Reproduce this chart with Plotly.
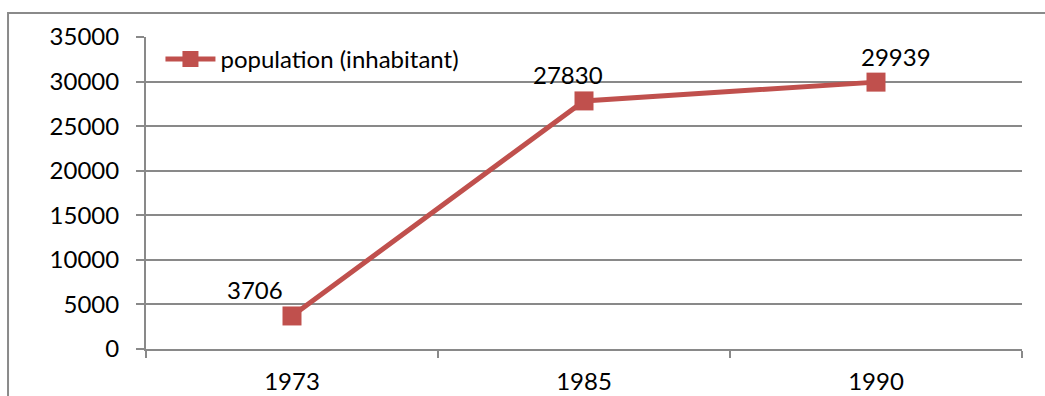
import plotly.graph_objects as go

years = ["1973", "1985", "1990"]
population = [3706, 27830, 29939]
label_xshift = [-37, -16, 20]
series_name = "population (inhabitant)"

RED = "#C0504D"
GRID = "#898989"
FONT = "Lato"
FS = 24

fig = go.Figure()
fig.add_trace(go.Scatter(
    x=years, y=population, mode="lines+markers", name=series_name,
    line=dict(color=RED, width=5),
    marker=dict(symbol="square", size=19, color=RED),
))

for i, (y, dx) in enumerate(zip(population, label_xshift)):
    fig.add_annotation(x=i, y=y, xref="x", yref="y", text=str(y), showarrow=False,
                       xshift=dx, yshift=26,
                       font=dict(family=FONT, size=FS, color="#000000"))

fig.add_shape(type="rect", xref="paper", yref="paper",
              x0=-0.1575, x1=1.2, y0=-0.3, y1=1.0769,
              line=dict(color="#8a8a8a", width=2), fillcolor="rgba(0,0,0,0)",
              layer="below")

fig.update_layout(
    width=1045, height=396,
    margin=dict(l=146, r=23, t=37, b=47, autoexpand=False),
    paper_bgcolor="white", plot_bgcolor="white",
    font=dict(family=FONT, size=FS, color="#000000"),
    showlegend=True,
    legend=dict(x=0.0165, y=1.0, xanchor="left", yanchor="top",
                bgcolor="rgba(0,0,0,0)", font=dict(size=FS),
                itemwidth=50, tracegroupgap=0),
    xaxis=dict(type="category", range=[-0.5, 2.5], showgrid=False,
               showline=True, linecolor=GRID, linewidth=2,
               ticks="outside", tickson="boundaries", ticklen=7,
               tickcolor=GRID, tickwidth=2, ticklabelstandoff=10,
               zeroline=False, automargin=False),
    yaxis=dict(range=[0, 35000], dtick=5000, tickformat="d", showgrid=True,
               gridcolor=GRID, gridwidth=2,
               showline=True, linecolor=GRID, linewidth=2,
               ticks="outside", ticklen=8, tickcolor=GRID, tickwidth=2,
               ticklabelstandoff=12, zeroline=False, automargin=False),
)

fig.write_html("out.html", config={"displayModeBar": False},
               post_script="document.body.style.margin='0';")
